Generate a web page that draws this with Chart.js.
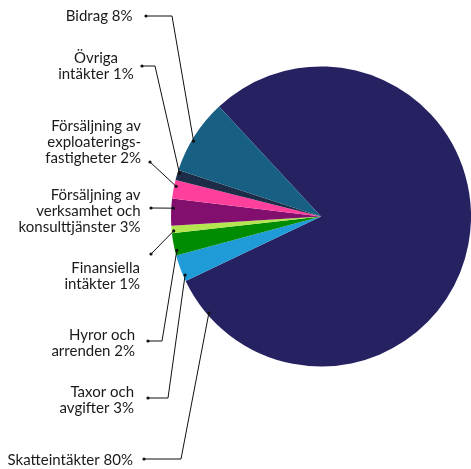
<!DOCTYPE html>
<html><head><meta charset="utf-8">
<script src="https://cdn.jsdelivr.net/npm/chart.js@4/dist/chart.umd.min.js"></script>
<style>html,body{margin:0;padding:0;background:#fff}#wrap{width:471px;height:469px;position:relative}</style>
</head><body><div id="wrap"><canvas id="c"></canvas></div>
<script>
const categories = ["Skatteintäkter","Taxor och avgifter","Hyror och arrenden","Finansiella intäkter","Försäljning av verksamhet och konsulttjänster","Försäljning av exploateringsfastigheter","Övriga intäkter","Bidrag"];
const values = [79.8, 2.9, 2.4, 0.8, 2.9, 2.0, 1.1, 8.1];
const labelLines = [
  ["Skatteintäkter 80%"],
  ["Taxor och","avgifter 3%"],
  ["Hyror och","arrenden 2%"],
  ["Finansiella","intäkter 1%"],
  ["Försäljning av","verksamhet och","konsulttjänster 3%"],
  ["Försäljning av","exploaterings-","fastigheter 2%"],
  ["Övriga","intäkter 1%"],
  ["Bidrag 8%"]
];
const colors = ["#262262","#1f9bd7","#008c00","#b4e650","#820f6e","#ff3f9c","#1e2d47","#176083"];

// label layout: text anchor, alignment, leader path (label dot, elbow), position inside slice (fraction of slice angle)
const layout = [
  {x:133, y:460, align:"right", dot:[144,459], elbow:[181,459], frac:0.947},
  {x:134, y:392.5, align:"right", dot:[148,398], elbow:[168,398], frac:0.21},
  {x:135, y:335, align:"right", dot:[148,341], elbow:[162,341], frac:0.22},
  {x:140, y:268.5, align:"right", dot:[151,254], elbow:null, frac:0.3},
  {x:140.5, y:195, align:"right", dot:[151,208], elbow:null, frac:0.65},
  {x:141, y:126, align:"right", dot:[150,162], elbow:null, frac:0.68},
  {x:96, y:58.5, align:"center", dot:[142,66], elbow:[155,66], frac:0.74},
  {x:132.5, y:16, align:"right", dot:[146,16], elbow:[172,16], frac:0.43}
];
const lineHeight = 16;

const leaderPlugin = {
  id:'leaders',
  afterDatasetsDraw(chart){
    const ctx = chart.ctx;
    const meta = chart.getDatasetMeta(0);
    ctx.save();
    ctx.font = '15px Lato';
    ctx.textBaseline = 'middle';
    meta.data.forEach((arc,i)=>{
      const L = layout[i];
      const p = arc.getProps(['x','y','startAngle','endAngle','outerRadius'],true);
      const a = p.startAngle + (p.endAngle-p.startAngle)*L.frac;
      const r = p.outerRadius - 2;
      const sx = p.x + Math.cos(a)*r, sy = p.y + Math.sin(a)*r;
      ctx.strokeStyle = '#111';
      ctx.lineWidth = 1;
      ctx.beginPath();
      ctx.moveTo(L.dot[0],L.dot[1]);
      if(L.elbow) ctx.lineTo(L.elbow[0],L.elbow[1]);
      ctx.lineTo(sx,sy);
      ctx.stroke();
      ctx.fillStyle = '#111';
      [[L.dot[0],L.dot[1]],[sx,sy]].forEach(q=>{ctx.beginPath();ctx.arc(q[0],q[1],1.6,0,Math.PI*2);ctx.fill();});
      ctx.fillStyle = '#1a1a1a';
      ctx.textAlign = L.align;
      labelLines[i].forEach((t,k)=>ctx.fillText(t, L.x, L.y + k*lineHeight));
    });
    ctx.restore();
  }
};

new Chart(document.getElementById('c'), {
  type:'pie',
  data:{labels:categories, datasets:[{data:values, backgroundColor:colors, borderWidth:0}]},
  options:{
    responsive:true, maintainAspectRatio:false, animation:false,
    rotation:317.2,
    layout:{padding:{left:171,right:0,top:66,bottom:102}},
    plugins:{legend:{display:false}, tooltip:{enabled:false}}
  },
  plugins:[leaderPlugin]
});
</script></body></html>
